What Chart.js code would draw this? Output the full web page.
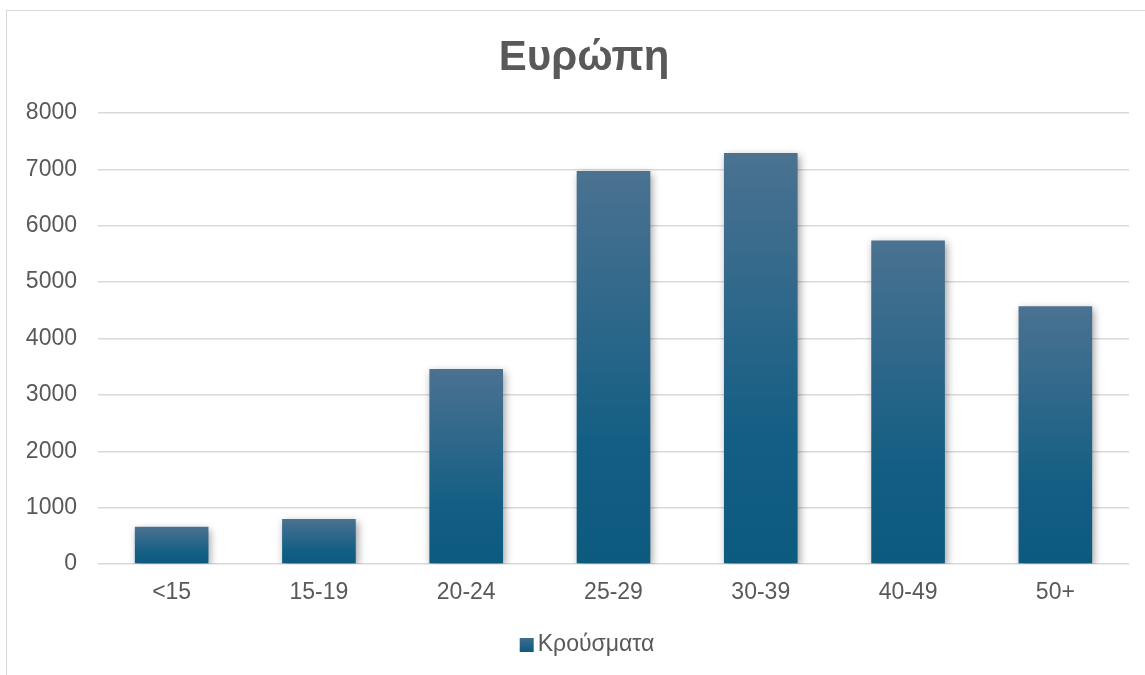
<!DOCTYPE html>
<html>
<head>
<meta charset="utf-8">
<script src="https://cdn.jsdelivr.net/npm/chart.js@4/dist/chart.umd.min.js"></script>
<style>
  html, body { margin: 0; padding: 0; background: #fff; }
  #wrap { position: relative; width: 1145px; height: 675px; overflow: hidden; }
  #frame { position: absolute; left: 6px; top: 10px; width: 1200px; height: 700px;
           border-left: 1px solid #d9d9d9; border-top: 1px solid #d9d9d9; pointer-events: none; }
  canvas { position: absolute; left: 0; top: 0; }
</style>
</head>
<body>
<div id="wrap">
  <canvas id="c" width="1145" height="675"></canvas>
  <div id="frame"></div>
</div>
<script>
// Age groups and reported cases
const categories = ['<15', '15-19', '20-24', '25-29', '30-39', '40-49', '50+'];
const cases = [660, 800, 3460, 6970, 7290, 5740, 4570];
const yTicks = [0, 1000, 2000, 3000, 4000, 5000, 6000, 7000, 8000];
const seriesName = 'Κρούσματα';
const chartTitle = 'Ευρώπη';

const TEXT = '#595959';
const FONT = "'Liberation Sans', Arial, sans-serif";

// Per-bar vertical gradient (lighter steel blue at top, deep blue at bottom)
function barGradient(context) {
  const chart = context.chart;
  const area = chart.chartArea;
  if (!area || context.raw === undefined) return '#1f6288';
  const y = chart.scales.y;
  const top = y.getPixelForValue(context.raw);
  const bottom = y.getPixelForValue(0);
  if (!isFinite(top) || !isFinite(bottom) || top === bottom) return '#1f6288';
  const g = chart.ctx.createLinearGradient(0, top, 0, bottom);
  g.addColorStop(0, '#4b7291');
  g.addColorStop(0.7, '#135e84');
  g.addColorStop(1, '#0d5a7f');
  return g;
}

// Soft outer shadow around the bars
const barShadow = {
  id: 'barShadow',
  beforeDatasetsDraw(chart) {
    const ctx = chart.ctx;
    ctx.save();
    ctx.shadowColor = 'rgba(0,0,0,0.38)';
    ctx.shadowBlur = 8;
    ctx.shadowOffsetX = 2;
    ctx.shadowOffsetY = 3;
  },
  afterDatasetsDraw(chart) {
    chart.ctx.restore();
  }
};

// Title and series key, centred on the chart frame
const headerAndKey = {
  id: 'headerAndKey',
  afterDraw(chart) {
    const ctx = chart.ctx;
    const cx = 584;
    ctx.save();
    ctx.fillStyle = TEXT;
    ctx.textAlign = 'center';
    ctx.textBaseline = 'middle';
    ctx.font = `bold 42px ${FONT}`;
    ctx.fillText(chartTitle, cx, 58);

    ctx.font = `23px ${FONT}`;
    const tw = ctx.measureText(seriesName).width;
    const box = 14, gap = 4;
    const total = box + gap + tw;
    const x0 = cx + 3 - total / 2;
    const cy = 645;
    const g = ctx.createLinearGradient(0, cy - box / 2, 0, cy + box / 2);
    g.addColorStop(0, '#3f6e8f');
    g.addColorStop(1, '#0d5a7f');
    ctx.fillStyle = g;
    ctx.fillRect(x0, cy - box / 2, box, box);
    ctx.fillStyle = TEXT;
    ctx.textAlign = 'left';
    ctx.fillText(seriesName, x0 + box + gap, cy);
    ctx.restore();
  }
};

new Chart(document.getElementById('c'), {
  type: 'bar',
  data: {
    labels: categories,
    datasets: [{
      label: seriesName,
      data: cases,
      backgroundColor: barGradient,
      borderWidth: 0,
      categoryPercentage: 1,
      barPercentage: 0.5
    }]
  },
  options: {
    responsive: false,
    animation: false,
    devicePixelRatio: 1,
    layout: { padding: { left: 0, right: 16, top: 113, bottom: 52 } },
    plugins: {
      title: { display: false },
      legend: { display: false },
      tooltip: { enabled: false }
    },
    scales: {
      x: {
        grid: { display: false, drawTicks: false },
        border: { display: false },
        ticks: { color: TEXT, font: { family: FONT, size: 23 }, padding: 15 },
        afterFit(scale) { scale.height = 59; }
      },
      y: {
        min: 0,
        max: 8000,
        afterBuildTicks(scale) { scale.ticks = yTicks.map(v => ({ value: v })); },
        grid: { color: '#d9d9d9', lineWidth: 1.5, drawTicks: false },
        border: { display: false },
        ticks: {
          color: TEXT,
          font: { family: FONT, size: 23 },
          padding: 21,
          callback: (v) => String(v)
        },
        afterFit(scale) { scale.width = 98; }
      }
    }
  },
  plugins: [barShadow, headerAndKey]
});
</script>
</body>
</html>
